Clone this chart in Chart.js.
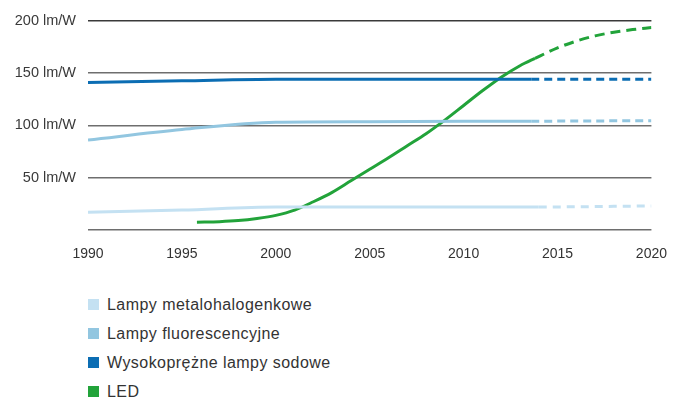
<!DOCTYPE html>
<html>
<head>
<meta charset="utf-8">
<script src="https://cdn.jsdelivr.net/npm/chart.js@4/dist/chart.umd.min.js"></script>
<style>
  body { margin: 0; background: #fff; font-family: "Liberation Sans", Arial, sans-serif; }
  #wrap { width: 683px; height: 270px; position: relative; }
  #legend { list-style: none; margin: 0; padding: 0; position: absolute; left: 88px; top: 290px; }
  #legend li { height: 29px; font-size: 16px; letter-spacing: 0.45px; color: #333; display: flex; align-items: center; }
  #legend span { display: inline-block; width: 11px; height: 11px; margin-right: 8px; }
</style>
</head>
<body>
<div id="wrap"><canvas id="chart"></canvas></div>
<ul id="legend"></ul>
<script>
'use strict';

const seriesNames = ['Lampy metalohalogenkowe', 'Lampy fluorescencyjne', 'Wysokoprężne lampy sodowe', 'LED'];
const seriesColors = ['#c4e1f2', '#92c6e0', '#0b6db3', '#22a33a'];
// year where the solid line turns into a dashed forecast
const forecastFrom = [2014, 2013.6, 2013.6, 2013.8];

const metalYears = [1990, 1995, 2000, 2005, 2010, 2014, 2020];
const metalValues = [17, 19, 22, 22, 22, 22, 23];

const fluoYears = [1990, 1995, 2000, 2005, 2010, 2013.6, 2020];
const fluoValues = [86, 96, 103, 103.5, 104, 104, 104.5];

const sodiumYears = [1990, 1995, 2000, 2005, 2010, 2013.6, 2020];
const sodiumValues = [141, 142.5, 144, 144, 144, 144, 144];

const ledYears = [1995.8, 1997, 1998, 1999, 2000, 2001, 2002, 2003, 2004, 2005, 2006, 2007, 2008, 2009, 2010, 2011, 2012, 2013, 2013.8, 2015, 2016, 2017, 2018, 2019, 2020];
const ledValues = [7.5, 8, 9, 11, 14, 19, 27, 36, 47, 58, 69, 80.5, 92, 105, 119, 133, 146, 157, 164, 174, 180.5, 185.5, 189, 191.5, 193.5];

const yTicks = [0, 50, 100, 150, 200];
const xTicks = [1990, 1995, 2000, 2005, 2010, 2015, 2020];

function points(years, values) {
  const out = [];
  for (let i = 0; i < years.length; i++) {
    out.push({ x: years[i], y: values[i] });
  }
  return out;
}

function makeSet(i, years, values, dash) {
  return {
    label: seriesNames[i],
    data: points(years, values),
    borderColor: seriesColors[i],
    backgroundColor: seriesColors[i],
    borderWidth: 3,
    pointRadius: 0,
    cubicInterpolationMode: 'monotone',
    segment: {
      borderDash: ctx => ctx.p0.parsed.x >= forecastFrom[i] - 0.01 ? dash : undefined
    }
  };
}

const data = {
  datasets: [
    makeSet(0, metalYears, metalValues, [8, 6]),
    makeSet(1, fluoYears, fluoValues, [8, 5]),
    makeSet(2, sodiumYears, sodiumValues, [8, 5]),
    makeSet(3, ledYears, ledValues, [10, 6])
  ]
};

const config = {
  type: 'line',
  data: data,
  options: {
    responsive: true,
    maintainAspectRatio: false,
    animation: false,
    layout: { padding: { top: 19, right: 30, left: 0, bottom: 0 } },
    plugins: { legend: { display: false }, tooltip: { enabled: false } },
    scales: {
      x: {
        type: 'linear',
        min: 1990,
        max: 2020,
        afterBuildTicks: axis => { axis.ticks = xTicks.map(v => ({ value: v })); },
        ticks: {
          color: '#333',
          font: { family: 'Liberation Sans', size: 14 },
          padding: 16,
          maxRotation: 0,
          callback: v => String(v)
        },
        grid: { display: false, drawTicks: false },
        border: { display: false },
        afterFit: axis => { axis.height = 40; }
      },
      y: {
        min: 0,
        max: 200,
        afterBuildTicks: axis => { axis.ticks = yTicks.map(v => ({ value: v })); },
        ticks: {
          color: '#3a3a3a',
          font: { family: 'Liberation Sans', size: 14.5 },
          padding: 12,
          callback: v => v === 0 ? '' : v + ' lm/W'
        },
        grid: {
          color: ctx => ctx.tick && ctx.tick.value === 200 ? '#3a3a3a' : '#6e6e6e',
          lineWidth: 1.5,
          drawTicks: false
        },
        border: { display: false },
        afterFit: axis => { axis.width = 88; }
      }
    }
  }
};

const myChart = new Chart(document.getElementById('chart'), config);

const legendElem = document.getElementById('legend');
for (let i = 0; i < seriesNames.length; i++) {
  const li = document.createElement('li');
  const box = document.createElement('span');
  box.style.background = seriesColors[i];
  li.appendChild(box);
  li.appendChild(document.createTextNode(seriesNames[i]));
  legendElem.appendChild(li);
}
</script>
</body>
</html>
